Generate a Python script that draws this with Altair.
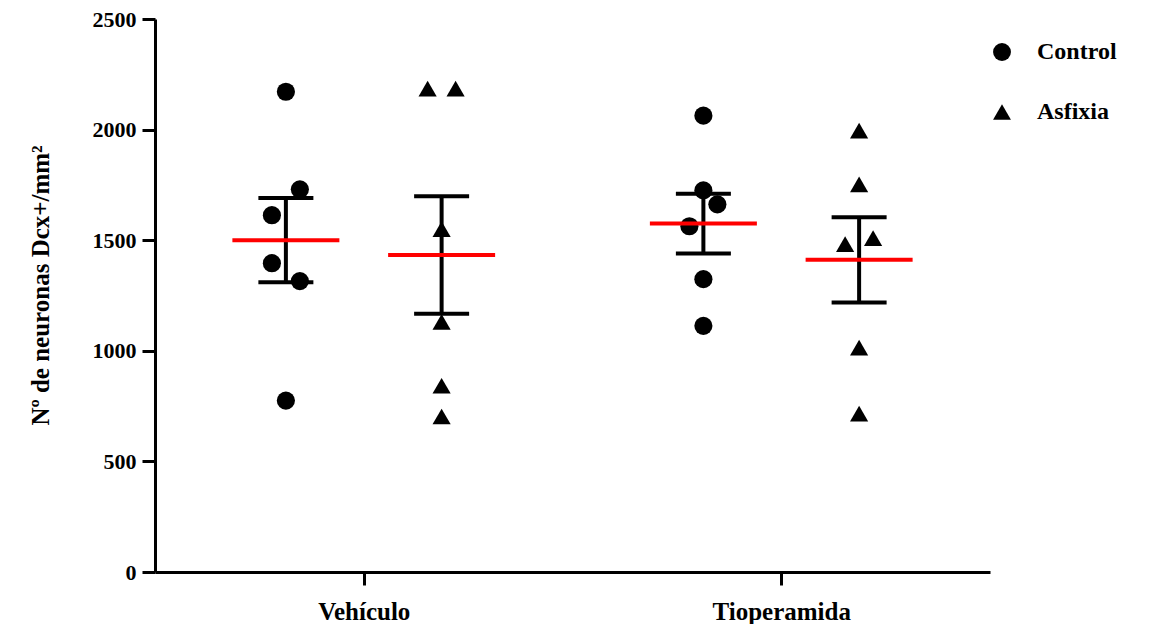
import altair as alt
import pandas as pd

# ---- data ----
treatments = ["Vehículo", "Tioperamida"]
conditions = ["Control", "Asfixia"]

veh_control = [2171, 1730, 1613, 1396, 1315, 775]
veh_asfixia = [2185, 2185, 1550, 1131, 842, 703]
tio_control = [2063, 1725, 1662, 1563, 1324, 1113]
tio_asfixia = [1995, 1752, 1482, 1509, 1014, 716]

# horizontal scatter of overlapping points (-1 left, 0 centre, +1 right)
veh_control_spread = [0, 1, -1, -1, 1, 0]
veh_asfixia_spread = [-1, 1, 0, 0, 0, 0]
tio_control_spread = [0, 0, 1, -1, 0, 0]
tio_asfixia_spread = [0, 0, -1, 1, 0, 0]

y_ticks = [0, 500, 1000, 1500, 2000, 2500]

series = [
    ("Vehículo", "Control", veh_control, veh_control_spread),
    ("Vehículo", "Asfixia", veh_asfixia, veh_asfixia_spread),
    ("Tioperamida", "Control", tio_control, tio_control_spread),
    ("Tioperamida", "Asfixia", tio_asfixia, tio_asfixia_spread),
]

treat_pos = {"Vehículo": 1.0, "Tioperamida": 3.0}
cond_shift = {"Control": -0.373, "Asfixia": 0.373}
jitter_step = 0.067

rows = []
for t, c, vals, spr in series:
    xc = treat_pos[t] + cond_shift[c]
    for v, s in zip(vals, spr):
        rows.append({"treatment": t, "condition": c, "value": v,
                     "xc": xc, "xp": xc + s * jitter_step})
df = pd.DataFrame(rows)

FONT = "Liberation Serif"

xscale = alt.Scale(domain=[0, 4], nice=False, zero=False)
yscale = alt.Scale(domain=[0, 2500], nice=False)

xaxis = alt.Axis(values=[1, 3],
                 labelExpr="datum.value == 1 ? 'Vehículo' : 'Tioperamida'",
                 title=None, grid=False, domainWidth=3, domainColor="black",
                 tickWidth=3, tickColor="black", tickSize=13,
                 labelFont=FONT, labelFontWeight="bold", labelFontSize=25,
                 labelColor="black", labelPadding=14)
yaxis = alt.Axis(values=y_ticks, format="d",
                 title="Nº de neuronas Dcx+/mm²", grid=False,
                 domainWidth=3, domainColor="black",
                 tickWidth=3, tickColor="black", tickSize=13,
                 labelFont=FONT, labelFontWeight="bold", labelFontSize=22,
                 labelColor="black", labelPadding=6,
                 titleFont=FONT, titleFontWeight="bold", titleFontSize=25,
                 titleColor="black", titleX=-115, titleY=266,
                 titleAngle=-90, titleAlign="center", titleBaseline="middle")

points = alt.Chart(df).mark_point(filled=True, opacity=1, size=330, color="black").encode(
    x=alt.X("xp:Q", scale=xscale, axis=xaxis),
    y=alt.Y("value:Q", scale=yscale, axis=yaxis),
    shape=alt.Shape("condition:N",
                    scale=alt.Scale(domain=conditions, range=["circle", "triangle-up"]),
                    legend=alt.Legend(title=None, orient="none", legendX=835, legendY=21,
                                      labelFont=FONT, labelFontWeight="bold",
                                      labelFontSize=24, labelColor="black",
                                      symbolSize=320, symbolFillColor="black",
                                      symbolStrokeColor="black", symbolStrokeWidth=0,
                                      symbolOpacity=1, rowPadding=36, labelOffset=23)),
)

stats = alt.Chart(df).transform_aggregate(
    mean="mean(value)", sem="stderr(value)", groupby=["xc"]
).transform_calculate(
    lo="datum.mean - datum.sem", hi="datum.mean + datum.sem"
)

vline = stats.mark_rule(color="black", strokeWidth=4, opacity=1).encode(
    x=alt.X("xc:Q", scale=xscale), y=alt.Y("lo:Q", scale=yscale), y2="hi:Q")
cap_hi = stats.mark_tick(orient="horizontal", color="black", size=55, thickness=4, opacity=1).encode(
    x=alt.X("xc:Q", scale=xscale), y=alt.Y("hi:Q", scale=yscale))
cap_lo = stats.mark_tick(orient="horizontal", color="black", size=55, thickness=4, opacity=1).encode(
    x=alt.X("xc:Q", scale=xscale), y=alt.Y("lo:Q", scale=yscale))
mean_line = stats.mark_tick(orient="horizontal", color="#ff0000", size=107, thickness=4, opacity=1).encode(
    x=alt.X("xc:Q", scale=xscale), y=alt.Y("mean:Q", scale=yscale))

chart = alt.layer(points, vline, cap_hi, cap_lo, mean_line).properties(
    width=835, height=553,
    autosize=alt.AutoSizeParams(type="none"),
    padding={"left": 147, "top": 11, "right": 158, "bottom": 52},
).configure_view(stroke=None)

chart.save("out.html", embed_options={"renderer": "svg", "actions": False})
